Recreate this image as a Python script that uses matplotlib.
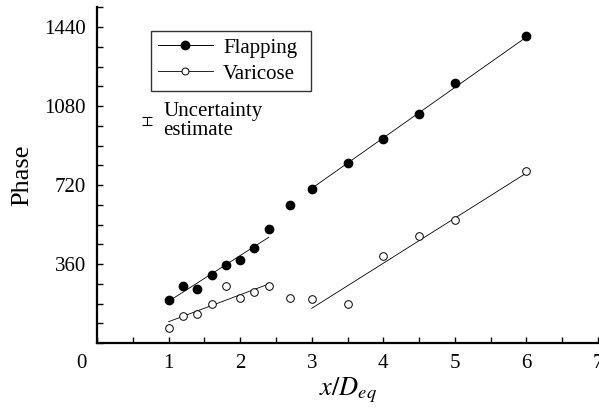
import numpy as np
import matplotlib
matplotlib.use("agg")
import matplotlib.pyplot as plt
from matplotlib.ticker import MultipleLocator

# Measured phase along the jet
x_pos = [1.0, 1.2, 1.4, 1.6, 1.8, 2.0, 2.2, 2.4, 2.7, 3.0, 3.5, 4.0, 4.5, 5.0, 6.0]
flapping = [196, 261, 245, 310, 355, 380, 431, 520, 630, 702, 822, 928, 1042, 1187, 1399]
varicose = [70, 125, 134, 178, 261, 204, 232, 258, 207, 202, 176, 398, 489, 561, 784]

# Linear fits (end points)
flap_fit1_x, flap_fit1_y = [1.0, 2.4], [190, 482]
flap_fit2_x, flap_fit2_y = [3.0, 6.0], [705, 1395]
var_fit1_x, var_fit1_y = [1.0, 2.4], [97, 269]
var_fit2_x, var_fit2_y = [3.0, 6.0], [158, 775]

# Uncertainty estimate bar
unc_x, unc_y, unc_err = 0.70, 1012, 18

x_ticks = [1, 2, 3, 4, 5, 6, 7]
y_ticks = [360, 720, 1080, 1440]

plt.rcParams["font.family"] = ["Liberation Serif", "DejaVu Serif"]
plt.rcParams["mathtext.fontset"] = "stix"

fig = plt.figure(figsize=(5.99, 4.13), dpi=100)
ax = fig.add_axes([97 / 599, 1 - 343 / 413, 501 / 599, 336 / 413])

ax.plot(flap_fit1_x, flap_fit1_y, color="black", lw=0.6)
ax.plot(flap_fit2_x, flap_fit2_y, color="black", lw=0.6)
ax.plot(var_fit1_x, var_fit1_y, color="black", lw=0.6)
ax.plot(var_fit2_x, var_fit2_y, color="black", lw=0.6)

ax.plot(x_pos, flapping, "o", color="black", ms=6, ls="none")
ax.plot(x_pos, varicose, "o", mfc="white", mec="black", mew=0.7, ms=5.5, ls="none")

# Legend handles (line + marker)
h1, = ax.plot([], [], "-o", color="black", lw=0.7, ms=6, label="Flapping")
h2, = ax.plot([], [], "-o", color="black", mfc="white", lw=0.6, mew=0.7, ms=5, label="Varicose")
lgd = ax.legend(handles=[h1, h2], loc="upper left",
                bbox_to_anchor=(0.108, 0.756, 0.319, 0.173), mode="expand",
                borderaxespad=0., fontsize=15, numpoints=1, handlelength=2.6,
                handletextpad=0.5, labelspacing=0.3, borderpad=0.35,
                fancybox=False, framealpha=1)
lgd.get_frame().set_edgecolor("#333333")
lgd.get_frame().set_linewidth(1.0)

ax.errorbar([unc_x], [unc_y], yerr=[unc_err], color="black", lw=0.8, capsize=3.5, capthick=0.8)
ax.text(0.93, 1012, "Uncertainty\nestimate", fontsize=15, va="center", ha="left", linespacing=0.95)

ax.set_xlim(0, 7)
ax.set_ylim(0, 1532)
ax.set_xticks(x_ticks)
ax.set_yticks(y_ticks)
ax.xaxis.set_minor_locator(MultipleLocator(0.5))
ax.yaxis.set_minor_locator(MultipleLocator(90))
ax.tick_params(which="both", direction="in", length=4, width=1, labelsize=15, pad=8)
ax.tick_params(axis="x", which="both", top=False)
ax.tick_params(axis="y", which="both", right=False)

ax.annotate("0", xy=(0, 0), xycoords="data", xytext=(-11, -15), textcoords="offset points",
            ha="center", va="center", fontsize=15)

[ax.spines[s].set_visible(False) for s in ["top", "right"]]
[ax.spines[s].set_linewidth(1.6) for s in ["left", "bottom"]]

ax.set_ylabel("Phase", fontsize=19, labelpad=8)
ax.set_xlabel("$x/D_{eq}$", fontsize=19, labelpad=2)

fig.savefig("out.png", dpi=100)
